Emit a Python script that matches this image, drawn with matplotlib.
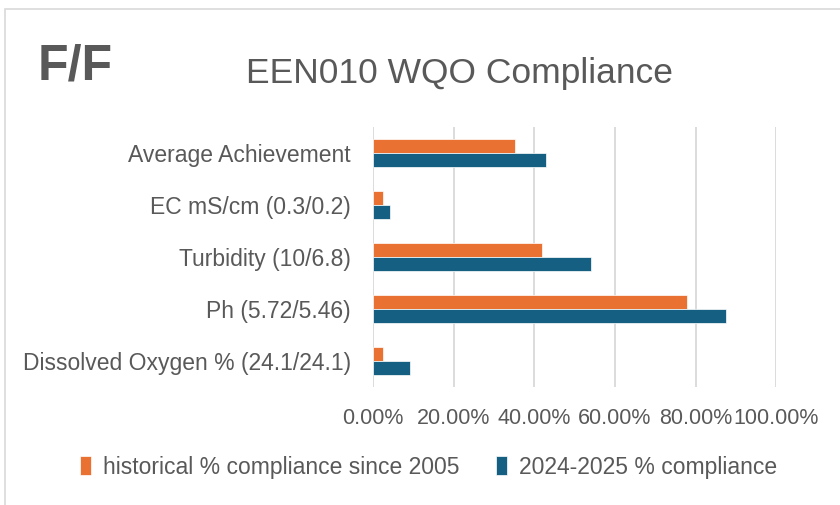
import matplotlib.pyplot as plt
import matplotlib.ticker as mticker
from matplotlib.patches import Rectangle
import numpy as np

# Data (top to bottom as shown)
categories = ['Average Achievement', 'EC mS/cm (0.3/0.2)', 'Turbidity (10/6.8)',
              'Ph (5.72/5.46)', 'Dissolved Oxygen % (24.1/24.1)']
historical = [35.2, 2.6, 41.9, 77.8, 2.5]
current = [43.0, 4.2, 54.2, 87.6, 9.1]
series_names = ['historical % compliance since 2005', '2024-2025 % compliance']

orange = '#E97132'
blue = '#156082'
grey = '#595959'

plt.rcParams['font.family'] = ['Liberation Sans', 'DejaVu Sans']

fig = plt.figure(figsize=(8.4, 5.05), dpi=100)
ax = fig.add_axes([0.444, 0.234, 0.480, 0.515])

y = np.arange(len(categories))
h = 0.265
ax.barh(y - h / 2, historical, height=h, color=orange, edgecolor='white', linewidth=0.5,
        label=series_names[0], zorder=3)
ax.barh(y + h / 2, current, height=h, color=blue, edgecolor='white', linewidth=0.5,
        label=series_names[1], zorder=3)

ax.set_ylim(len(categories) - 0.5, -0.5)
ax.set_xlim(0, 100)
ax.set_yticks(y)
ax.set_yticklabels(categories, fontsize=16.5, color=grey)
ax.set_xticks(np.arange(0, 101, 20))
ax.xaxis.set_major_formatter(mticker.FuncFormatter(lambda v, p: '%.2f%%' % v))
ax.tick_params(axis='x', labelsize=15.5, labelcolor=grey, length=0, pad=15)
ax.tick_params(axis='y', length=0, pad=16)
ax.grid(axis='x', color='#D9D9D9', linewidth=1.3, zorder=0)
for s in ax.spines.values():
    s.set_visible(False)

fig.text(0.045, 0.868, 'F/F', fontsize=36, fontweight='bold', color=grey, va='center')
fig.text(0.547, 0.855, 'EEN010 WQO Compliance', fontsize=25.5, color=grey, va='center', ha='center')

handles, labels = ax.get_legend_handles_labels()
fig.legend(handles, labels, loc='center', bbox_to_anchor=(0.51, 0.075), ncol=2, frameon=False,
           fontsize=16.5, labelcolor=grey, handlelength=0.5, handleheight=0.9,
           handletextpad=0.5, columnspacing=1.6)

fig.patches.append(Rectangle((5 / 840, -0.1), 1.2, 1.1 - 9 / 505, transform=fig.transFigure,
                             fill=False, edgecolor='#D9D9D9', linewidth=1.2))

fig.savefig('out.png', dpi=100)
